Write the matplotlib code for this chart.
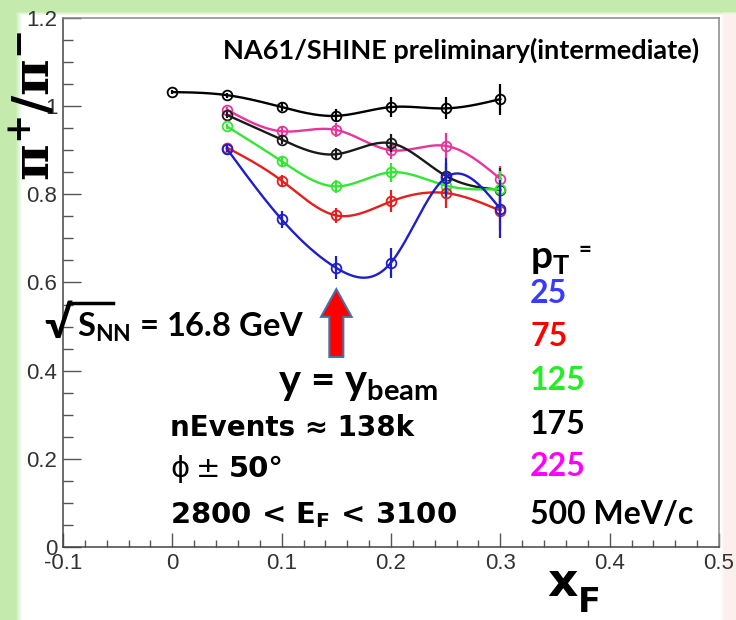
import numpy as np
import matplotlib
matplotlib.use("Agg")
import matplotlib.pyplot as plt
from matplotlib.patches import FancyArrow
from matplotlib.lines import Line2D

# pi+/pi- ratio vs x_F for several p_T bins
xf = [0.05, 0.10, 0.15, 0.20, 0.25, 0.30]
xf_top = [0.0, 0.05, 0.10, 0.15, 0.20, 0.25, 0.30]

ratio_top = [1.032, 1.025, 0.998, 0.978, 0.998, 0.995, 1.016]
err_top = [0.004, 0.006, 0.010, 0.015, 0.022, 0.025, 0.035]
ratio_225 = [0.992, 0.943, 0.946, 0.900, 0.910, 0.835]
err_225 = [0.006, 0.010, 0.015, 0.020, 0.028, 0.030]
ratio_175 = [0.980, 0.924, 0.891, 0.916, 0.842, 0.810]
err_175 = [0.006, 0.010, 0.014, 0.020, 0.030, 0.050]
ratio_125 = [0.954, 0.875, 0.818, 0.850, 0.820, 0.812]
err_125 = [0.006, 0.010, 0.015, 0.022, 0.030, 0.040]
ratio_75 = [0.906, 0.831, 0.752, 0.784, 0.803, 0.763]
err_75 = [0.008, 0.012, 0.018, 0.025, 0.035, 0.045]
ratio_25 = [0.903, 0.743, 0.633, 0.645, 0.838, 0.767]
err_25 = [0.008, 0.019, 0.026, 0.034, 0.045, 0.065]

pt_labels = ["25", "75", "125", "175", "225", "500 MeV/c"]
pt_colors = ["#3a3aff", "#ff0000", "#22ee22", "black", "#ff00ff", "black"]

xticks = [-0.1, 0.0, 0.1, 0.2, 0.3, 0.4, 0.5]
xtick_labels = ["-0.1", "0", "0.1", "0.2", "0.3", "0.4", "0.5"]
yticks = [0.0, 0.2, 0.4, 0.6, 0.8, 1.0, 1.2]
ytick_labels = ["0", "0.2", "0.4", "0.6", "0.8", "1", "1.2"]

W, H = 736, 620


def natural_spline(x, y, num=300):
    # natural cubic spline through the points (smooth curve like ROOT "C")
    x = np.asarray(x, float)
    y = np.asarray(y, float)
    n = len(x)
    h = np.diff(x)
    A = np.zeros((n, n))
    r = np.zeros(n)
    A[0, 0] = A[-1, -1] = 1
    for i in range(1, n - 1):
        A[i, i - 1] = h[i - 1]
        A[i, i] = 2 * (h[i - 1] + h[i])
        A[i, i + 1] = h[i]
        r[i] = 6 * ((y[i + 1] - y[i]) / h[i] - (y[i] - y[i - 1]) / h[i - 1])
    m = np.linalg.solve(A, r)
    xs = np.linspace(x[0], x[-1], num)
    idx = np.clip(np.searchsorted(x, xs) - 1, 0, n - 2)
    x0, x1 = x[idx], x[idx + 1]
    hh = x1 - x0
    t0, t1 = x1 - xs, xs - x0
    ys = (m[idx] * t0**3 + m[idx + 1] * t1**3) / (6 * hh) \
        + (y[idx] / hh - m[idx] * hh / 6) * t0 \
        + (y[idx + 1] / hh - m[idx + 1] * hh / 6) * t1
    return xs, ys


plt.rcParams["mathtext.fontset"] = "custom"
plt.rcParams["mathtext.rm"] = "Lato:bold"
plt.rcParams["mathtext.bf"] = "Lato:bold"
plt.rcParams["mathtext.it"] = "Lato:bold"

fig = plt.figure(figsize=(W / 100, H / 100), dpi=100)

# slide background: green strips on the left and top, faint pink on the right
yy, xx = np.mgrid[0:H, 0:W]
green = np.array([0.77, 0.92, 0.68])
a_left = np.clip((22 - xx) / 7.0, 0, 1)
a_top = np.clip((15 - yy) / 4.0, 0, 1)
a = np.maximum(a_left, a_top)[..., None]
img = np.ones((H, W, 3)) * (1 - a) + green * a
pink = np.array([0.99, 0.945, 0.935])
a_right = (np.clip((xx - 720) / 4.0, 0, 1) * (1 - np.maximum(a_left, a_top)))[..., None]
img = img * (1 - a_right) + pink * a_right
bg = fig.add_axes([0, 0, 1, 1], zorder=-5)
bg.imshow(img, aspect="auto", interpolation="bilinear")
bg.axis("off")

ax = fig.add_axes([63 / W, 1 - 547 / H, (719 - 63) / W, (547 - 18) / H])
ax.set_facecolor("white")

series = [
    (xf_top, ratio_top, err_top, "black"),
    (xf, ratio_225, err_225, "#e8359c"),
    (xf, ratio_175, err_175, "#1a1a1a"),
    (xf, ratio_125, err_125, "#33e633"),
    (xf, ratio_75, err_75, "#e51e1e"),
    (xf, ratio_25, err_25, "#1e1ecc"),
]
for x, y, e, c in series:
    xs, ys = natural_spline(x, y)
    ax.plot(xs, ys, color=c, lw=1.7)
    ax.errorbar(x, y, yerr=e, fmt="none", ecolor=c, elinewidth=1.6, capsize=0)
    ax.plot(x, y, "o", mfc="none", mec=c, ms=7, mew=1.3)

# arrow marking beam rapidity
ax.add_patch(FancyArrow(0.15, 0.431, 0, 0.154, width=0.0128, head_width=0.028,
                        head_length=0.063, length_includes_head=True,
                        facecolor="#ff0000", edgecolor="#4a6fa8", lw=1.5, zorder=5))

ax.set_xlim(-0.1, 0.5)
ax.set_ylim(0, 1.2)
ax.set_xticks(xticks)
ax.set_xticklabels(xtick_labels)
ax.set_yticks(yticks)
ax.set_yticklabels(ytick_labels)
ax.set_xticks(np.arange(-0.1, 0.5, 0.02), minor=True)
ax.set_yticks(np.arange(0, 1.2, 0.05), minor=True)
ax.tick_params(axis="y", which="major", direction="in", length=13, width=1, color="#555", pad=4)
ax.tick_params(axis="y", which="minor", direction="in", length=7, width=1, color="#555")
ax.tick_params(axis="x", which="major", direction="in", length=10, width=1, color="#555", pad=4)
ax.tick_params(axis="x", which="minor", direction="in", length=5, width=1, color="#555")
for lab in ax.get_xticklabels() + ax.get_yticklabels():
    lab.set_fontfamily("Liberation Sans")
    lab.set_fontsize(16)
    lab.set_color("#333")
for side in ["left", "bottom"]:
    ax.spines[side].set_color("#444")
    ax.spines[side].set_linewidth(1.1)
for side in ["top", "right"]:
    ax.spines[side].set_color("#888")
    ax.spines[side].set_linewidth(1.1)


def ftext(px, py, s, **kw):
    return fig.text(px / W, 1 - py / H, s, **kw)


calibri = dict(family="Lato", fontweight="bold")
helv = dict(family="DejaVu Sans", fontweight="bold")

ftext(461, 50, "NA61/SHINE preliminary(intermediate)", ha="center", va="center",
      fontsize=19.5, **calibri)

# y axis title
ftext(36, 106, r"π$^{\mathbf{+}}$/π$^{\mathbf{-}}$", rotation=90, ha="center", va="center",
      fontsize=36, family="DejaVu Serif", fontweight="bold", math_fontfamily="dejavuserif")

# sqrt(s_NN) with a drawn bar over S_NN
ftext(44, 325, "√", ha="left", va="center", fontsize=32, **calibri)
fig.add_artist(Line2D([70 / W, 113 / W], [1 - 303 / H, 1 - 303 / H], lw=2.5, color="black"))
ftext(77, 327, r"S$_{\mathrm{NN}}$ = 16.8 GeV", ha="left", va="center", fontsize=23.5, **calibri)

ftext(278, 394, r"y = y$_{\mathrm{beam}}$", ha="left", va="baseline", fontsize=30, **calibri)

ftext(170, 428, "nEvents ≈ 138k", ha="left", va="center", fontsize=20, **helv)
ftext(170, 469, "ϕ", ha="left", va="center", fontsize=21, family="DejaVu Sans")
ftext(196, 469, "±", ha="left", va="center", fontsize=21, family="DejaVu Sans")
ftext(229, 469, "50°", ha="left", va="center", fontsize=21, **helv)
ftext(170, 515, r"2800 < E$_{\mathbf{F}}$ < 3100", ha="left", va="center", fontsize=21,
      math_fontfamily="dejavusans", **helv)

ftext(530, 258, r"p$_{\mathrm{T}}$", ha="left", va="center", fontsize=28, **calibri)
ftext(579, 250, "=", ha="left", va="center", fontsize=16, **calibri)
for lab, col, py in zip(pt_labels, pt_colors, [293, 337, 381, 424, 467, 514]):
    ftext(530, py, lab, ha="left", va="center", fontsize=23, color=col, **calibri)

ftext(547, 583, "x", ha="left", va="center", fontsize=34, **helv)
ftext(578, 603, "F", ha="left", va="center", fontsize=24, **helv)

fig.savefig("out.png", dpi=100)
